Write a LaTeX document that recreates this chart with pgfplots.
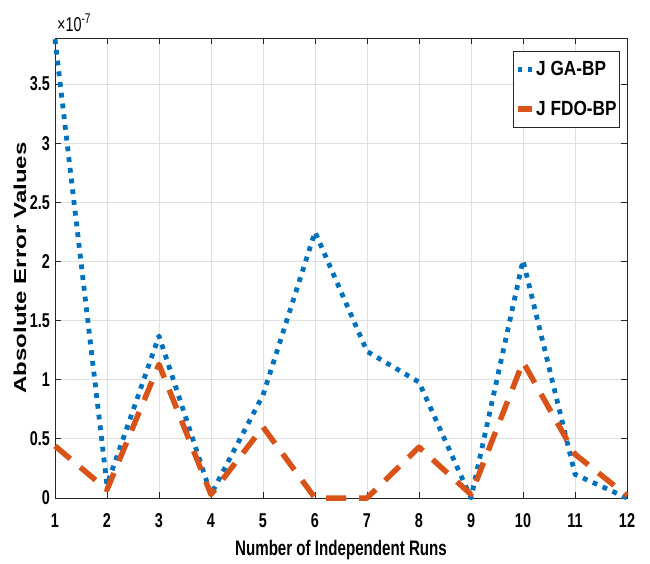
\documentclass[border=0pt]{standalone}
\usepackage{fontspec}
\setmainfont{Liberation Sans}[FakeStretch=0.72]
\newfontfamily\legfont{Liberation Sans}[FakeStretch=0.84]
\newfontfamily\ylabfont{Liberation Sans}
\usepackage{pgfplots}
\pgfplotsset{compat=1.18}
\definecolor{mblue}{rgb}{0,0.447,0.741}
\definecolor{morange}{rgb}{0.85,0.325,0.098}
\definecolor{axgray}{rgb}{0.15,0.15,0.15}
\begin{document}
\begin{tikzpicture}
\begin{axis}[
  scale only axis, width=572bp, height=460bp,
  xmin=1, xmax=12, ymin=0, ymax=3.89,
  xtick={1,2,3,4,5,6,7,8,9,10,11,12},
  xticklabels={1,2,3,4,5,6,7,8,9,10,11,12},
  ytick={0,0.5,1,1.5,2,2.5,3,3.5},
  yticklabels={0,0.5,1,1.5,2,2.5,3,3.5},
  /pgf/number format/assume math mode=true,
  tick label style={font=\fontsize{20bp}{23bp}\selectfont\bfseries, inner sep=0bp},
  xticklabel style={anchor=center, yshift=-23bp},
  yticklabel style={anchor=east, xshift=-5bp},
  grid=major, major grid style={color=black!12, line width=0.8bp},
  axis line style={axgray, line width=0.8bp},
  tick style={axgray, line width=0.8bp},
  tick align=inside, major tick length=6bp, tick pos=both,
  clip=false,
  xlabel={Number of Independent Runs},
  ylabel={\scalebox{1}[0.72]{\ylabfont\bfseries\fontsize{24bp}{28bp}\selectfont Absolute Error Values}},
  every axis x label/.style={at={(rel axis cs:0.5,0)}, anchor=center, yshift=-52bp, font=\fontsize{21bp}{24bp}\selectfont\bfseries},
  every axis y label/.style={at={(rel axis cs:0,0.5)}, anchor=center, rotate=90, yshift=35bp},
  legend cell align=left,
  legend image code/.code={\draw[#1] (0bp,0bp) -- (14bp,0bp);},
  legend style={at={(rel axis cs:1,1)}, anchor=north east, xshift=-7bp, yshift=-13bp,
    draw=axgray, line width=0.8bp, font=\legfont\bfseries\fontsize{20.5bp}{23bp}\selectfont,
    row sep=20bp, inner xsep=1bp, inner ysep=8bp},
]
\addplot[mblue, line width=4.8bp, dash pattern=on 4.8bp off 6bp, line join=round]
  coordinates {(1,3.88)(2,0.11)(3,1.37)(4,0.03)(5,0.87)(6,2.25)(7,1.24)(8,0.98)(9,0)(10,2.01)(11,0.2)(12,0)};
\addlegendentry{J GA-BP}
\addplot[morange, line width=5.5bp, dash pattern=on 20bp off 13bp, line join=round]
  coordinates {(1,0.44)(2,0.07)(3,1.13)(4,0.03)(5,0.6)(6,0)(7,0)(8,0.43)(9,0.03)(10,1.15)(11,0.37)(12,0.02)};
\addlegendentry{J FDO-BP}
\node[anchor=base west, inner sep=0bp, font=\fontsize{20bp}{23bp}\selectfont] at (rel axis cs:0,1) [xshift=2bp, yshift=6bp] {×10\raisebox{8bp}{\fontsize{14bp}{16bp}\selectfont -7}};
\coordinate (bl) at (rel axis cs:0,0);
\coordinate (tr) at (rel axis cs:1,1);
\end{axis}
\pgfresetboundingbox
\path ([xshift=-55bp,yshift=-66bp]bl) rectangle ([xshift=23bp,yshift=38bp]tr);
\end{tikzpicture}
\end{document}
